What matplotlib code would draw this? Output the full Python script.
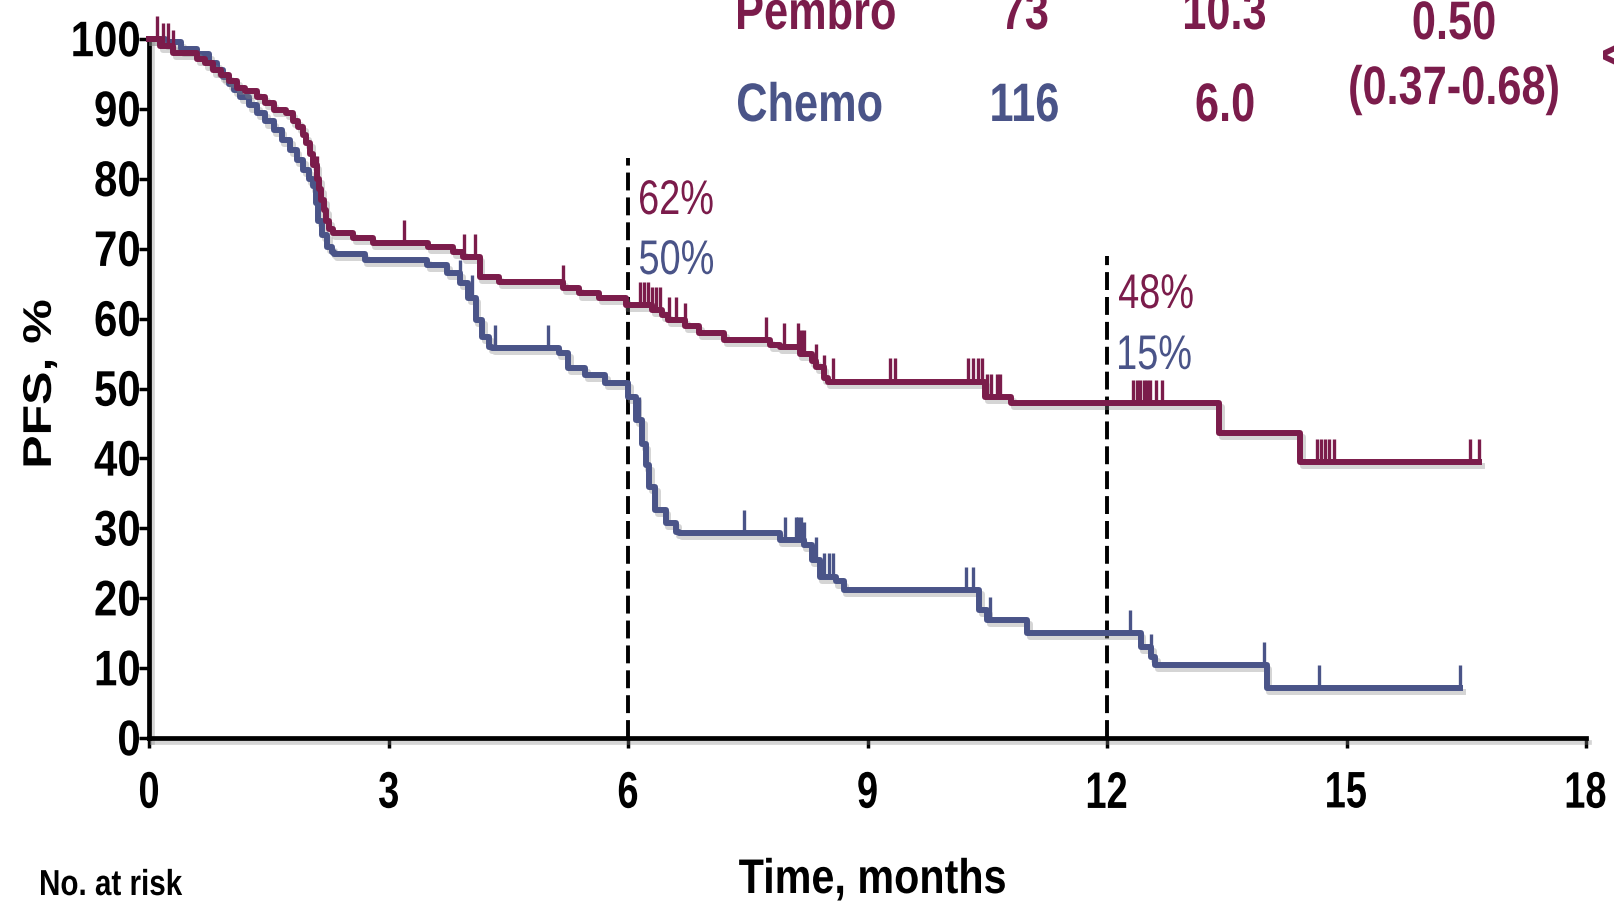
import matplotlib

matplotlib.use("Agg")
import matplotlib.pyplot as plt
import matplotlib.patheffects as pe
import numpy as np
from matplotlib.font_manager import FontProperties
from matplotlib.patches import PathPatch
from matplotlib.textpath import TextPath
from matplotlib.transforms import Affine2D, IdentityTransform

# Kaplan-Meier steps (month, PFS %)
pembro_time = [0, 0.14, 0.3, 0.6, 0.7, 0.8, 0.9, 1.0, 1.1, 1.2, 1.35, 1.45, 1.56,
               1.72, 1.8, 1.87, 1.93, 1.97, 2.02, 2.06, 2.1, 2.13, 2.16, 2.19, 2.22,
               2.26, 2.3, 2.56, 2.8, 3.5, 3.81, 3.93, 4.14, 4.39, 5.19, 5.39, 5.64,
               5.97, 6.3, 6.43, 6.5, 6.72, 6.89, 7.2, 7.78, 7.9, 8.15, 8.3, 8.36,
               8.45, 8.5, 10.47, 10.8, 13.4, 14.42, 16.66]
pembro_pfs = [100, 99, 98, 97.2, 96.5, 95.5, 94.8, 94, 93, 92.5, 91.7, 90.8, 89.9,
              89.4, 88.3, 87.4, 86.2, 85.1, 83.5, 82, 80, 78.5, 77, 75.5, 74,
              72.8, 72.3, 71.5, 70.8, 70.2, 69.5, 68.8, 66.0, 65.2, 64.4, 63.6, 62.9,
              61.9, 61.2, 60.5, 59.8, 58.9, 57.9, 56.9, 56.2, 56.0, 55.0, 54.0, 53.1,
              51.5, 51.0, 48.8, 47.9, 43.6, 39.5, 39.5]
pembro_censor = [0.1, 0.17, 0.24, 0.3, 2.1, 3.2, 3.94, 4.08, 5.19, 6.15, 6.2, 6.25,
                 6.3, 6.35, 6.4, 6.51, 6.6, 6.72, 7.73, 7.96, 8.13, 8.17, 8.2, 8.36,
                 8.45, 8.57, 9.28, 9.34, 10.26, 10.32, 10.38, 10.43, 10.5, 10.55,
                 10.62, 10.66, 12.33, 12.37, 12.41, 12.46, 12.5, 12.54, 12.62, 12.69,
                 14.63, 14.68, 14.73, 14.78, 14.84, 16.55, 16.66]

chemo_time = [0, 0.2, 0.4, 0.6, 0.75, 0.85, 0.93, 1.0, 1.07, 1.14, 1.25, 1.35, 1.45,
              1.56, 1.66, 1.77, 1.85, 1.93, 2.0, 2.05, 2.09, 2.12, 2.17, 2.23, 2.29,
              2.32, 2.7, 3.48, 3.73, 3.9, 4.0, 4.09, 4.17, 4.26, 4.3, 5.13, 5.25,
              5.46, 5.71, 6.0, 6.1, 6.18, 6.22, 6.26, 6.34, 6.47, 6.6, 6.64, 7.9,
              8.2, 8.3, 8.4, 8.6, 8.7, 10.4, 10.5, 11.0, 12.42, 12.55, 12.6, 14.0,
              16.42]
chemo_pfs = [100, 99.5, 98.5, 97.8, 96.5, 95.5, 94.5, 93.6, 92.7, 91.7, 90.5, 89.4,
             88.2, 87.0, 85.6, 84.1, 82.7, 81.3, 80, 78.9, 76.5, 74, 72, 70.3, 69.5,
             69.2, 68.4, 67.7, 66.5, 65.1, 63.0, 59.8, 57.4, 56.0, 55.8, 55.1, 52.9,
             51.9, 50.8, 48.8, 45.5, 42, 39, 35.9, 32.6, 30.8, 29.5, 29.3, 28.3,
             27.6, 25.5, 23.1, 22.4, 21.2, 18.3, 16.9, 15.0, 13.0, 11.6, 10.4, 7.2,
             7.2]
chemo_censor = [3.9, 4.05, 4.34, 5.0, 6.14, 6.34, 7.45, 7.97, 8.1, 8.13, 8.17, 8.2,
                8.36, 8.45, 8.52, 8.57, 10.24, 10.32, 10.53, 12.29, 12.55, 13.97,
                14.66, 16.42]

landmarks = [6, 12]
landmark_top = [83, 69]
landmark_pembro = ["62%", "48%"]
landmark_chemo = ["50%", "15%"]

table_rows = ["Pembro", "Chemo"]
table_n = ["73", "116"]
table_median = ["10.3", "6.0"]
table_hr = ["0.50", "(0.37-0.68)"]

x_ticks = [0, 3, 6, 9, 12, 15, 18]
y_ticks = list(range(0, 101, 10))

RED = "#7b1c4b"
BLUE = "#4a5488"
W, H = 1614, 908
DPI = 100

# baselines (pixels from the top) of the landmark percentage labels
LANDMARK_BASE = [(214, 274), (308, 369)]

shadow = [pe.SimpleLineShadow(offset=(2, -3), shadow_color="#888888", alpha=0.35), pe.Normal()]


def _step_value(times, values, t):
    idx = np.searchsorted(np.asarray(times), t, side="right") - 1
    return np.asarray(values)[idx]


def squeezed_text(fig, x, y, s, size, color="black", weight="bold", sx=0.8,
                  ha="left", va="baseline", rotation=0):
    """Draw text as a path squeezed sideways (the slide font is a narrow one).

    x, y are display pixels (origin bottom-left), size is in points.
    """
    prop = FontProperties(family="Liberation Sans", weight=weight)
    path = TextPath((0, 0), s, size=size * DPI / 72, prop=prop)
    base = Affine2D().rotate_deg(rotation).scale(sx, 1)
    ext = path.transformed(base).get_extents()
    dx = {"left": ext.x0, "center": (ext.x0 + ext.x1) / 2, "right": ext.x1}[ha]
    dy = {"baseline": 0, "bottom": ext.y0, "center": (ext.y0 + ext.y1) / 2,
          "top": ext.y1}[va]
    tr = base + Affine2D().translate(x - dx, y - dy)
    patch = PathPatch(path.transformed(tr), facecolor=color, edgecolor="none",
                      transform=IdentityTransform())
    fig.add_artist(patch)
    return patch


fig = plt.figure(figsize=(W / DPI, H / DPI), dpi=DPI)
ax = fig.add_axes([149 / W, 1 - 738 / H, (1586 - 149) / W, (738 - 39) / H])

for times, pfs, censor, color in [
    (chemo_time, chemo_pfs, chemo_censor, BLUE),
    (pembro_time, pembro_pfs, pembro_censor, RED),
]:
    ax.step(times, pfs, where="post", color=color, lw=4.3, clip_on=False,
            path_effects=shadow, zorder=3)
    cy = _step_value(times, pfs, censor)
    ax.vlines(censor, cy, cy + 3.3, color=color, lw=2.4, clip_on=False, zorder=3)

for x, top in zip(landmarks, landmark_top):
    ax.vlines(x, 0, top, color="black", lw=2.8, linestyles=(0, (4.6, 1.8)), zorder=2)

ax.set_xlim(0, 18)
ax.set_ylim(0, 100)
ax.set_xticks(x_ticks)
ax.set_yticks(y_ticks)
ax.tick_params(axis="both", direction="out", length=7, width=2.5, color="black",
               labelbottom=False, labelleft=False)
for side in ("top", "right"):
    ax.spines[side].set_visible(False)
for side in ("left", "bottom"):
    ax.spines[side].set_linewidth(3.4)
    ax.spines[side].set_path_effects(shadow)

# tick labels, placed through the axes transform
for v in x_ticks:
    px, _ = ax.transData.transform((v, 0))
    squeezed_text(fig, px, H - 790, str(v), 37, sx=0.74, ha="center", va="center")
for v in y_ticks:
    _, py = ax.transData.transform((0, v))
    squeezed_text(fig, 139, py, str(v), 36, sx=0.84, ha="right", va="center")

# landmark percentages
for x, lab_p, lab_c, (base_p, base_c) in zip(landmarks, landmark_pembro,
                                              landmark_chemo, LANDMARK_BASE):
    px, _ = ax.transData.transform((x, 0))
    squeezed_text(fig, px + 12, H - base_p, lab_p, 35, color=RED, weight="normal", sx=0.78)
    squeezed_text(fig, px + 12, H - base_c, lab_c, 35, color=BLUE, weight="normal", sx=0.78)

squeezed_text(fig, 872, H - 893, "Time, months", 35, sx=0.85, ha="center")
squeezed_text(fig, 40, H - 383, "PFS, %", 36, sx=0.8, ha="center", va="center",
              rotation=90)
squeezed_text(fig, 41, H - 895, "No. at risk", 26, sx=0.82)

# summary table at the top, partly cut off by the slide edge
row_base = [29, 121]
for i, name in enumerate(table_rows):
    color = RED if i == 0 else BLUE
    y = H - row_base[i]
    squeezed_text(fig, 738, y, name, 39, color=color, sx=0.8)
    squeezed_text(fig, 1025, y, table_n[i], 39, color=color, sx=0.8, ha="center")
    squeezed_text(fig, 1225, y, table_median[i], 39, color=RED, sx=0.8, ha="center")
squeezed_text(fig, 1454, H - 39, table_hr[0], 39, color=RED, sx=0.8, ha="center")
squeezed_text(fig, 1454, H - 90, table_hr[1], 39, color=RED, sx=0.8, ha="center",
              va="center")
squeezed_text(fig, 1603, H - 55, "<", 39, color=RED, sx=0.8, va="center")

fig.savefig("out.png", dpi=DPI)
